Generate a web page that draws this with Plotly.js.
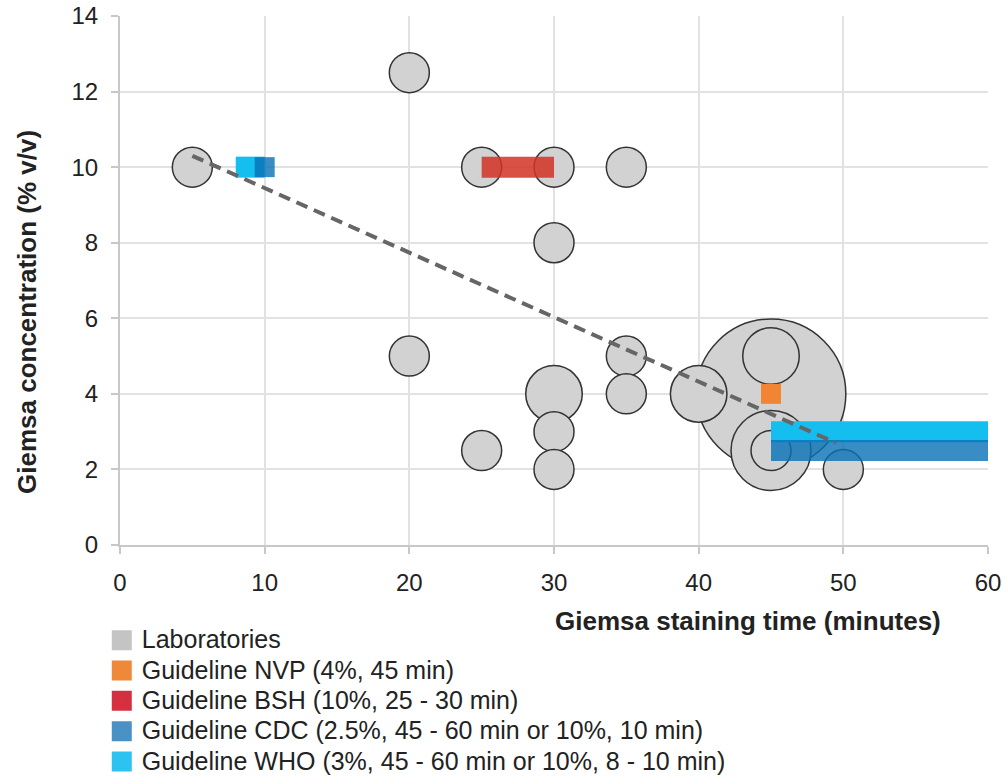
<!DOCTYPE html>
<html>
<head>
<meta charset="utf-8">
<script src="https://cdn.plot.ly/plotly-3.0.1.min.js"></script>
<style>html,body{margin:0;padding:0;background:#fff;}#chart{width:1004px;height:776px;}</style>
</head>
<body>
<div id="chart"></div>
<script>
// Laboratories: staining time (min), concentration (% v/v), number of labs (bubble size)
const labTime = [45, 5, 20, 20, 25, 25, 30, 30, 30, 30, 30, 35, 35, 35, 40, 45, 45, 45, 50];
const labConc = [4, 10, 12.5, 5, 10, 2.5, 10, 8, 4, 3, 2, 10, 5, 4, 4, 5, 2.5, 2.5, 2];
const labCount = [14, 1, 1, 1, 1, 1, 1, 1, 2, 1, 1, 1, 1, 1, 2, 2, 4, 1, 1];

// Guidelines
const nvpTime = [45];
const nvpConc = [4];
const bshTime = [25, 30];
const bshConc = [10, 10];
const cdcRangeTime = [45, 60];
const cdcRangeConc = [2.5, 2.5];
const cdcPointTime = [10];
const cdcPointConc = [10];
const whoRangeTime = [45, 60];
const whoRangeConc = [3, 3];
const whoShortTime = [8, 10];
const whoShortConc = [10, 10];

// Trend line
const trendTime = [5, 49.5];
const trendConc = [10.3, 2.7];

const legendNames = [
  'Laboratories',
  'Guideline NVP (4%, 45 min)',
  'Guideline BSH (10%, 25 - 30 min)',
  'Guideline CDC (2.5%, 45 - 60 min or 10%, 10 min)',
  'Guideline WHO (3%, 45 - 60 min or 10%, 8 - 10 min)'
];
const legendColors = ['#c4c4c4', '#f0883a', '#d4303f', '#4a92c6', '#2cc3f2'];

const FONT = 'Liberation Sans, Arial, Helvetica, sans-serif';
const C_WHO = '#14bff0';
const C_CDC = 'rgba(8,113,182,0.8)';
const BAR_W = 21;

const traces = [
  {
    type: 'scatter', mode: 'markers', x: labTime, y: labConc,
    marker: {size: labCount, sizemode: 'area', sizeref: 0.00125, opacity: 1,
             color: '#d1d2d1', line: {color: '#333333', width: 1.5}},
    showlegend: false, hoverinfo: 'x+y'
  },
  {
    type: 'scatter', mode: 'lines', x: whoRangeTime, y: whoRangeConc,
    line: {color: C_WHO, width: BAR_W}, showlegend: false
  },
  {
    type: 'scatter', mode: 'lines', x: whoShortTime, y: whoShortConc,
    line: {color: C_WHO, width: BAR_W}, showlegend: false
  },
  {
    type: 'scatter', mode: 'lines', x: cdcRangeTime, y: cdcRangeConc,
    line: {color: C_CDC, width: BAR_W}, showlegend: false
  },
  {
    type: 'scatter', mode: 'markers', x: cdcPointTime, y: cdcPointConc,
    marker: {symbol: 'square', size: BAR_W - 1, color: C_CDC, line: {width: 0}}, showlegend: false
  },
  {
    type: 'scatter', mode: 'markers', x: nvpTime, y: nvpConc,
    marker: {symbol: 'square', size: BAR_W - 1, color: '#f28534', line: {width: 0}}, showlegend: false
  },
  {
    type: 'scatter', mode: 'lines', x: bshTime, y: bshConc,
    line: {color: 'rgba(210,50,35,0.85)', width: BAR_W}, showlegend: false
  },
  {
    type: 'scatter', mode: 'lines', x: trendTime, y: trendConc,
    line: {color: '#666666', width: 4, dash: '12px,7px'}, showlegend: false
  }
];

legendNames.forEach((n, i) => {
  traces.push({
    type: 'scatter', mode: 'markers', x: [null], y: [null],
    name: '<span style="font-size:25px">' + n + '</span>',
    marker: {symbol: 'square', size: 16, color: legendColors[i], line: {width: 4, color: legendColors[i]}},
    showlegend: true
  });
});

const layout = {
  width: 1004, height: 776,
  margin: {l: 120, r: 16, t: 16, b: 231, autoexpand: false},
  paper_bgcolor: '#ffffff', plot_bgcolor: '#ffffff',
  font: {family: FONT, color: '#222222', size: 21},
  showlegend: true,
  legend: {
    x: -0.021, xanchor: 'left', y: -0.142, yanchor: 'top',
    orientation: 'v', font: {family: FONT, size: 21, color: '#222222'},
    bgcolor: 'rgba(0,0,0,0)', itemsizing: 'trace', tracegroupgap: 0
  },
  xaxis: {
    range: [0, 60], dtick: 10, tick0: 0,
    showgrid: true, gridcolor: '#e2e2e2', gridwidth: 2,
    showline: true, linecolor: '#c8c8c8', linewidth: 2,
    ticks: 'outside', ticklen: 7, tickcolor: '#c8c8c8', tickwidth: 2,
    ticklabelstandoff: 8,
    zeroline: false, tickfont: {family: FONT, size: 24, color: '#222222'},
    fixedrange: true
  },
  yaxis: {
    range: [0, 14], dtick: 2, tick0: 0,
    showgrid: true, gridcolor: '#e2e2e2', gridwidth: 2,
    showline: true, linecolor: '#c8c8c8', linewidth: 2,
    ticks: 'outside', ticklen: 7, tickcolor: '#c8c8c8', tickwidth: 2,
    ticklabelstandoff: 8,
    zeroline: false, tickfont: {family: FONT, size: 24, color: '#222222'},
    fixedrange: true
  },
  annotations: [
    {
      text: '<b>Giemsa staining time (minutes)</b>', xref: 'paper', yref: 'paper',
      x: (748 - 120) / 868, xanchor: 'center', y: (545 - 621) / 529, yanchor: 'middle', showarrow: false,
      font: {family: FONT, size: 26, color: '#222222'}
    },
    {
      text: '<b>Giemsa concentration (% v/v)</b>', xref: 'paper', yref: 'paper',
      x: (27 - 120) / 868, xanchor: 'center', y: (545 - 312) / 529, yanchor: 'middle', showarrow: false,
      textangle: -90, font: {family: FONT, size: 26, color: '#222222'}
    }
  ]
};

Plotly.newPlot('chart', traces, layout, {displayModeBar: false, staticPlot: true});
</script>
</body>
</html>
